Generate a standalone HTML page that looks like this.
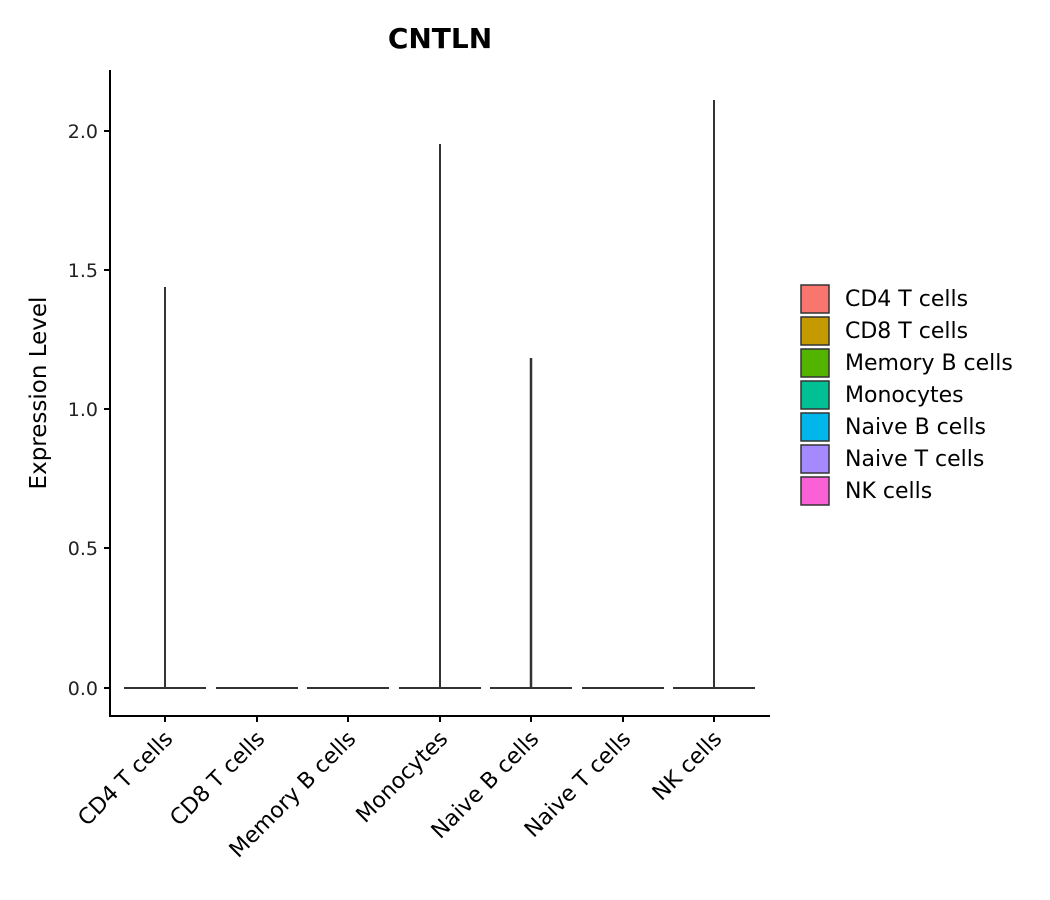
<!DOCTYPE html>
<html><head><meta charset="utf-8"><style>body{margin:0;background:#fff}svg{display:block}</style></head><body>
<svg width="1050" height="900" xmlns="http://www.w3.org/2000/svg" font-family="DejaVu Sans, Liberation Sans, sans-serif">
<rect width="1050" height="900" fill="#fff"/>
<text x="440" y="48" font-size="28" font-weight="bold" text-anchor="middle">CNTLN</text>
<g stroke="#000" stroke-width="2" fill="none">
<line x1="110" y1="70" x2="110" y2="717"/>
<line x1="109" y1="716" x2="770" y2="716"/>
<line x1="104" y1="688" x2="110" y2="688"/>
<line x1="104" y1="548" x2="110" y2="548"/>
<line x1="104" y1="409" x2="110" y2="409"/>
<line x1="104" y1="270" x2="110" y2="270"/>
<line x1="104" y1="131" x2="110" y2="131"/>
<line x1="165" y1="716" x2="165" y2="722"/>
<line x1="257" y1="716" x2="257" y2="722"/>
<line x1="348" y1="716" x2="348" y2="722"/>
<line x1="440" y1="716" x2="440" y2="722"/>
<line x1="531" y1="716" x2="531" y2="722"/>
<line x1="623" y1="716" x2="623" y2="722"/>
<line x1="714" y1="716" x2="714" y2="722"/>
</g>
<g font-size="19" text-anchor="end" fill="#222">
<text x="98" y="695">0.0</text><text x="98" y="555">0.5</text><text x="98" y="416">1.0</text><text x="98" y="277">1.5</text><text x="98" y="138">2.0</text>
</g>
<text transform="translate(46,393) rotate(-90)" font-size="23" text-anchor="middle">Expression Level</text>
<g stroke="#333" stroke-width="2" fill="none">
<line x1="124" y1="688" x2="206" y2="688"/><line x1="165" y1="287" x2="165" y2="688"/>
<line x1="216" y1="688" x2="298" y2="688"/>
<line x1="307" y1="688" x2="389" y2="688"/>
<line x1="399" y1="688" x2="481" y2="688"/><line x1="440" y1="144" x2="440" y2="688"/>
<line x1="490" y1="688" x2="572" y2="688"/><line x1="531" y1="358" x2="531" y2="688" stroke-width="2.5"/>
<line x1="582" y1="688" x2="664" y2="688"/>
<line x1="673" y1="688" x2="755" y2="688"/><line x1="714" y1="100" x2="714" y2="688"/>
</g>
<g font-size="22" text-anchor="end" fill="#000">
<text transform="translate(174,740) rotate(-45)">CD4 T cells</text>
<text transform="translate(266,740) rotate(-45)">CD8 T cells</text>
<text transform="translate(357,740) rotate(-45)">Memory B cells</text>
<text transform="translate(449,740) rotate(-45)">Monocytes</text>
<text transform="translate(540,740) rotate(-45)">Naive B cells</text>
<text transform="translate(632,740) rotate(-45)">Naive T cells</text>
<text transform="translate(723,740) rotate(-45)">NK cells</text>
</g>
<g stroke="#333" stroke-width="1.5">
<rect x="801" y="285" width="28" height="28" fill="#F8766D"/>
<rect x="801" y="317" width="28" height="28" fill="#C49A00"/>
<rect x="801" y="349" width="28" height="28" fill="#53B400"/>
<rect x="801" y="381" width="28" height="28" fill="#00C094"/>
<rect x="801" y="413" width="28" height="28" fill="#00B6EB"/>
<rect x="801" y="445" width="28" height="28" fill="#A58AFF"/>
<rect x="801" y="477" width="28" height="28" fill="#FB61D7"/>
</g>
<g font-size="22" fill="#000">
<text x="845" y="306">CD4 T cells</text>
<text x="845" y="338">CD8 T cells</text>
<text x="845" y="370">Memory B cells</text>
<text x="845" y="402">Monocytes</text>
<text x="845" y="434">Naive B cells</text>
<text x="845" y="466">Naive T cells</text>
<text x="845" y="498">NK cells</text>
</g>
</svg>
</body></html>
